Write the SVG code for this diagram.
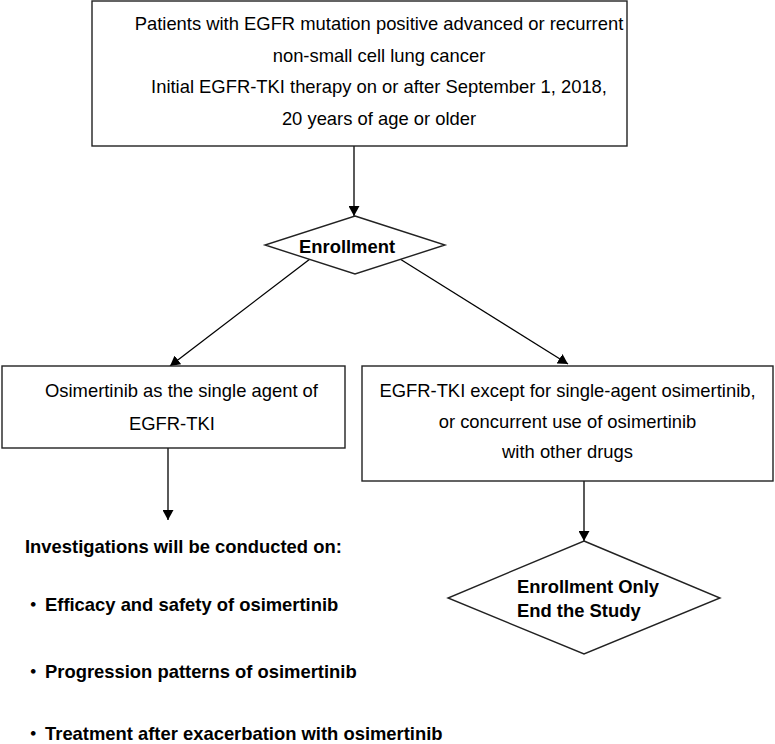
<svg xmlns="http://www.w3.org/2000/svg" width="775" height="744" viewBox="0 0 775 744">
<style>
.box{fill:#fff;stroke:#222;stroke-width:1.4}
.t{font-family:"Liberation Sans",Arial,"Noto Sans CJK JP",sans-serif;font-size:18.4px;fill:#000}
.b{font-weight:bold}
.c{text-anchor:middle}
.dot{font-family:"Noto Sans CJK JP",sans-serif;font-size:18.4px;fill:#000}
.con{stroke:#000;stroke-width:1.3;fill:none;marker-end:url(#ah)}
</style>
<defs>
<marker id="ah" viewBox="0 0 10 11" markerWidth="10" markerHeight="11" refX="10" refY="5.5" orient="auto" markerUnits="userSpaceOnUse">
<path d="M0,0 L10,5.5 L0,11 z" fill="#000"/>
</marker>
</defs>
<rect width="775" height="744" fill="#fff"/>
<g id="connectors">
<line class="con" x1="354" y1="146" x2="354" y2="216"/>
<line class="con" x1="310" y1="259" x2="170" y2="366"/>
<line class="con" x1="400" y1="259" x2="568" y2="364"/>
<line class="con" x1="168" y1="448" x2="168" y2="520"/>
<line class="con" x1="584" y1="481" x2="584" y2="541"/>
</g>
<g id="patients">
<rect class="box" x="92" y="1" width="535" height="145"/>
<text class="t c" x="379" y="30">Patients with EGFR mutation positive advanced or recurrent</text>
<text class="t c" x="379" y="61.5">non-small cell lung cancer</text>
<text class="t c" x="379" y="93">Initial EGFR-TKI therapy on or after September 1, 2018,</text>
<text class="t c" x="379" y="124.5">20 years of age or older</text>
</g>
<g id="enrollment">
<polygon class="box" points="355,216 445,245 355,274 265,245"/>
<text class="t b" x="299" y="253">Enrollment</text>
</g>
<g id="osimertinib">
<rect class="box" x="2" y="366" width="343" height="82"/>
<text class="t" x="45" y="397">Osimertinib as the single agent of</text>
<text class="t" x="129" y="430">EGFR-TKI</text>
</g>
<g id="other">
<rect class="box" x="362" y="366" width="411" height="115"/>
<text class="t c" x="567.5" y="397">EGFR-TKI except for single-agent osimertinib,</text>
<text class="t c" x="567.5" y="427.5">or concurrent use of osimertinib</text>
<text class="t c" x="567.5" y="458">with other drugs</text>
</g>
<g id="investigations">
<text class="t b" x="25" y="553">Investigations will be conducted on:</text>
<text class="t b" x="24" y="611"><tspan class="dot">・</tspan><tspan x="45">Efficacy and safety of osimertinib</tspan></text>
<text class="t b" x="24" y="678"><tspan class="dot">・</tspan><tspan x="45">Progression patterns of osimertinib</tspan></text>
<text class="t b" x="24" y="740"><tspan class="dot">・</tspan><tspan x="45">Treatment after exacerbation with osimertinib</tspan></text>
</g>
<g id="end">
<polygon class="box" points="584,541 720,598 584,654 448,598"/>
<text class="t b" x="517" y="593">Enrollment Only</text>
<text class="t b" x="517" y="617">End the Study</text>
</g>
</svg>
